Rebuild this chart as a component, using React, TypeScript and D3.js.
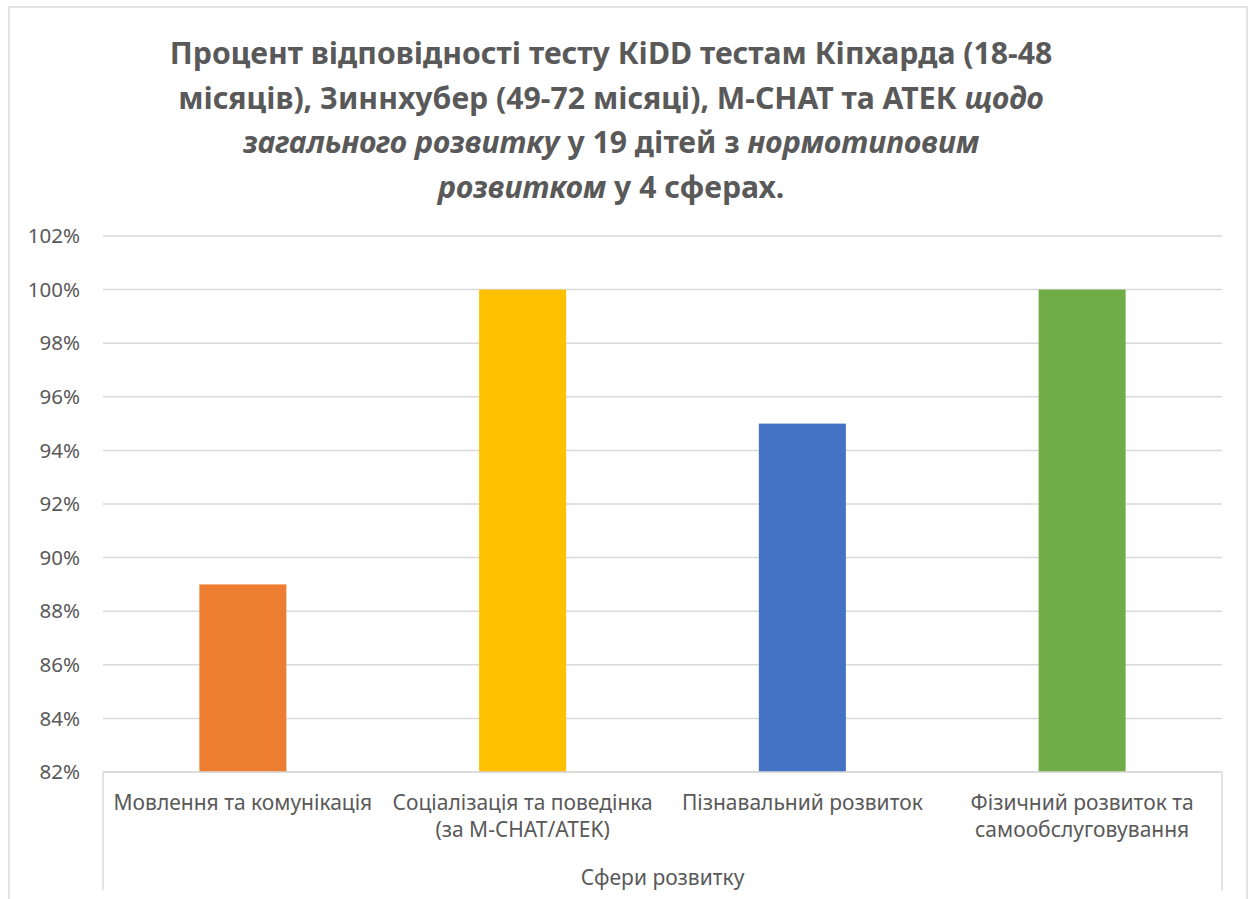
import React from "react";
import * as d3 from "d3";

const categories: string[][] = [
  ["Мовлення та комунікація"],
  ["Соціалізація та поведінка", "(за M-CHAT/ATEK)"],
  ["Пізнавальний розвиток"],
  ["Фізичний розвиток та", "самообслуговування"],
];
const values: number[] = [0.89, 1.0, 0.95, 1.0];
const barColors: string[] = ["#ED7D31", "#FFC000", "#4472C4", "#70AD47"];
const yTicks: number[] = [0.82, 0.84, 0.86, 0.88, 0.9, 0.92, 0.94, 0.96, 0.98, 1.0, 1.02];
const axisTitle = "Сфери розвитку";
// title lines: segments [text, italic]
const titleLines: [string, boolean][][] = [
  [["Процент відповідності тесту КіDD тестам Кіпхарда (18-48", false]],
  [["місяців), Зиннхубер (49-72 місяці), M-CHAT та АТЕК ", false], ["щодо", true]],
  [["загального розвитку", true], [" у 19 дітей з ", false], ["нормотиповим", true]],
  [["розвитком", true], [" у 4 сферах.", false]],
];

const W = 1251;
const H = 899;
const plot = { left: 103, right: 1222, top: 236, bottom: 772 };
const FONT = "'Noto Sans', 'Open Sans', sans-serif";
const TEXT = "#595959";
const GRID = "#D9D9D9";

export default function App() {
  const idx = categories.map((_, i) => String(i));
  const x = d3
    .scaleBand<string>()
    .domain(idx)
    .range([plot.left, plot.right])
    .paddingInner(0.689)
    .paddingOuter(0.689 / 2);
  const y = d3.scaleLinear().domain([0.82, 1.02]).range([plot.bottom, plot.top]);
  const fmt = d3.format(".0%");

  return (
    <svg
      width={W}
      height={H}
      style={{ position: "absolute", left: 0, top: 0, background: "#fff" }}
      fontFamily={FONT}
    >
      <rect x={9} y={7} width={1238} height={920} fill="#fff" stroke={GRID} strokeWidth={1.5} />

      <text x={611} textAnchor="middle" fontSize={30.2} fontWeight="bold" fill={TEXT}>
        {titleLines.map((line, li) => (
          <tspan key={li} x={611} y={64 + li * 44.7}>
            {line.map(([t, it], si) => (
              <tspan key={si} fontStyle={it ? "italic" : "normal"}>
                {t}
              </tspan>
            ))}
          </tspan>
        ))}
      </text>

      {yTicks.map((t) => (
        <g key={t}>
          <line
            x1={plot.left}
            x2={plot.right}
            y1={y(t)}
            y2={y(t)}
            stroke={GRID}
            strokeWidth={1.5}
          />
          <text
            x={80}
            y={y(t)}
            dy="0.35em"
            textAnchor="end"
            fontSize={20.5}
            fill={TEXT}
          >
            {fmt(t)}
          </text>
        </g>
      ))}

      {values.map((v, i) => (
        <rect
          key={i}
          x={x(String(i))}
          y={y(v)}
          width={x.bandwidth()}
          height={y(0.82) - y(v)}
          fill={barColors[i]}
        />
      ))}

      <line x1={plot.left} x2={plot.right} y1={plot.bottom} y2={plot.bottom} stroke={GRID} strokeWidth={1.5} />
      <line x1={plot.left} x2={plot.left} y1={plot.bottom} y2={890} stroke={GRID} strokeWidth={1.5} />
      <line x1={plot.right} x2={plot.right} y1={plot.bottom} y2={890} stroke={GRID} strokeWidth={1.5} />

      {categories.map((lines, i) => (
        <text key={i} textAnchor="middle" fontSize={21} fill={TEXT}>
          {lines.map((l, li) => (
            <tspan key={li} x={(x(String(i)) as number) + x.bandwidth() / 2} y={810 + li * 27}>
              {l}
            </tspan>
          ))}
        </text>
      ))}

      <text
        x={(plot.left + plot.right) / 2}
        y={885}
        textAnchor="middle"
        fontSize={21}
        fill={TEXT}
      >
        {axisTitle}
      </text>
    </svg>
  );
}
